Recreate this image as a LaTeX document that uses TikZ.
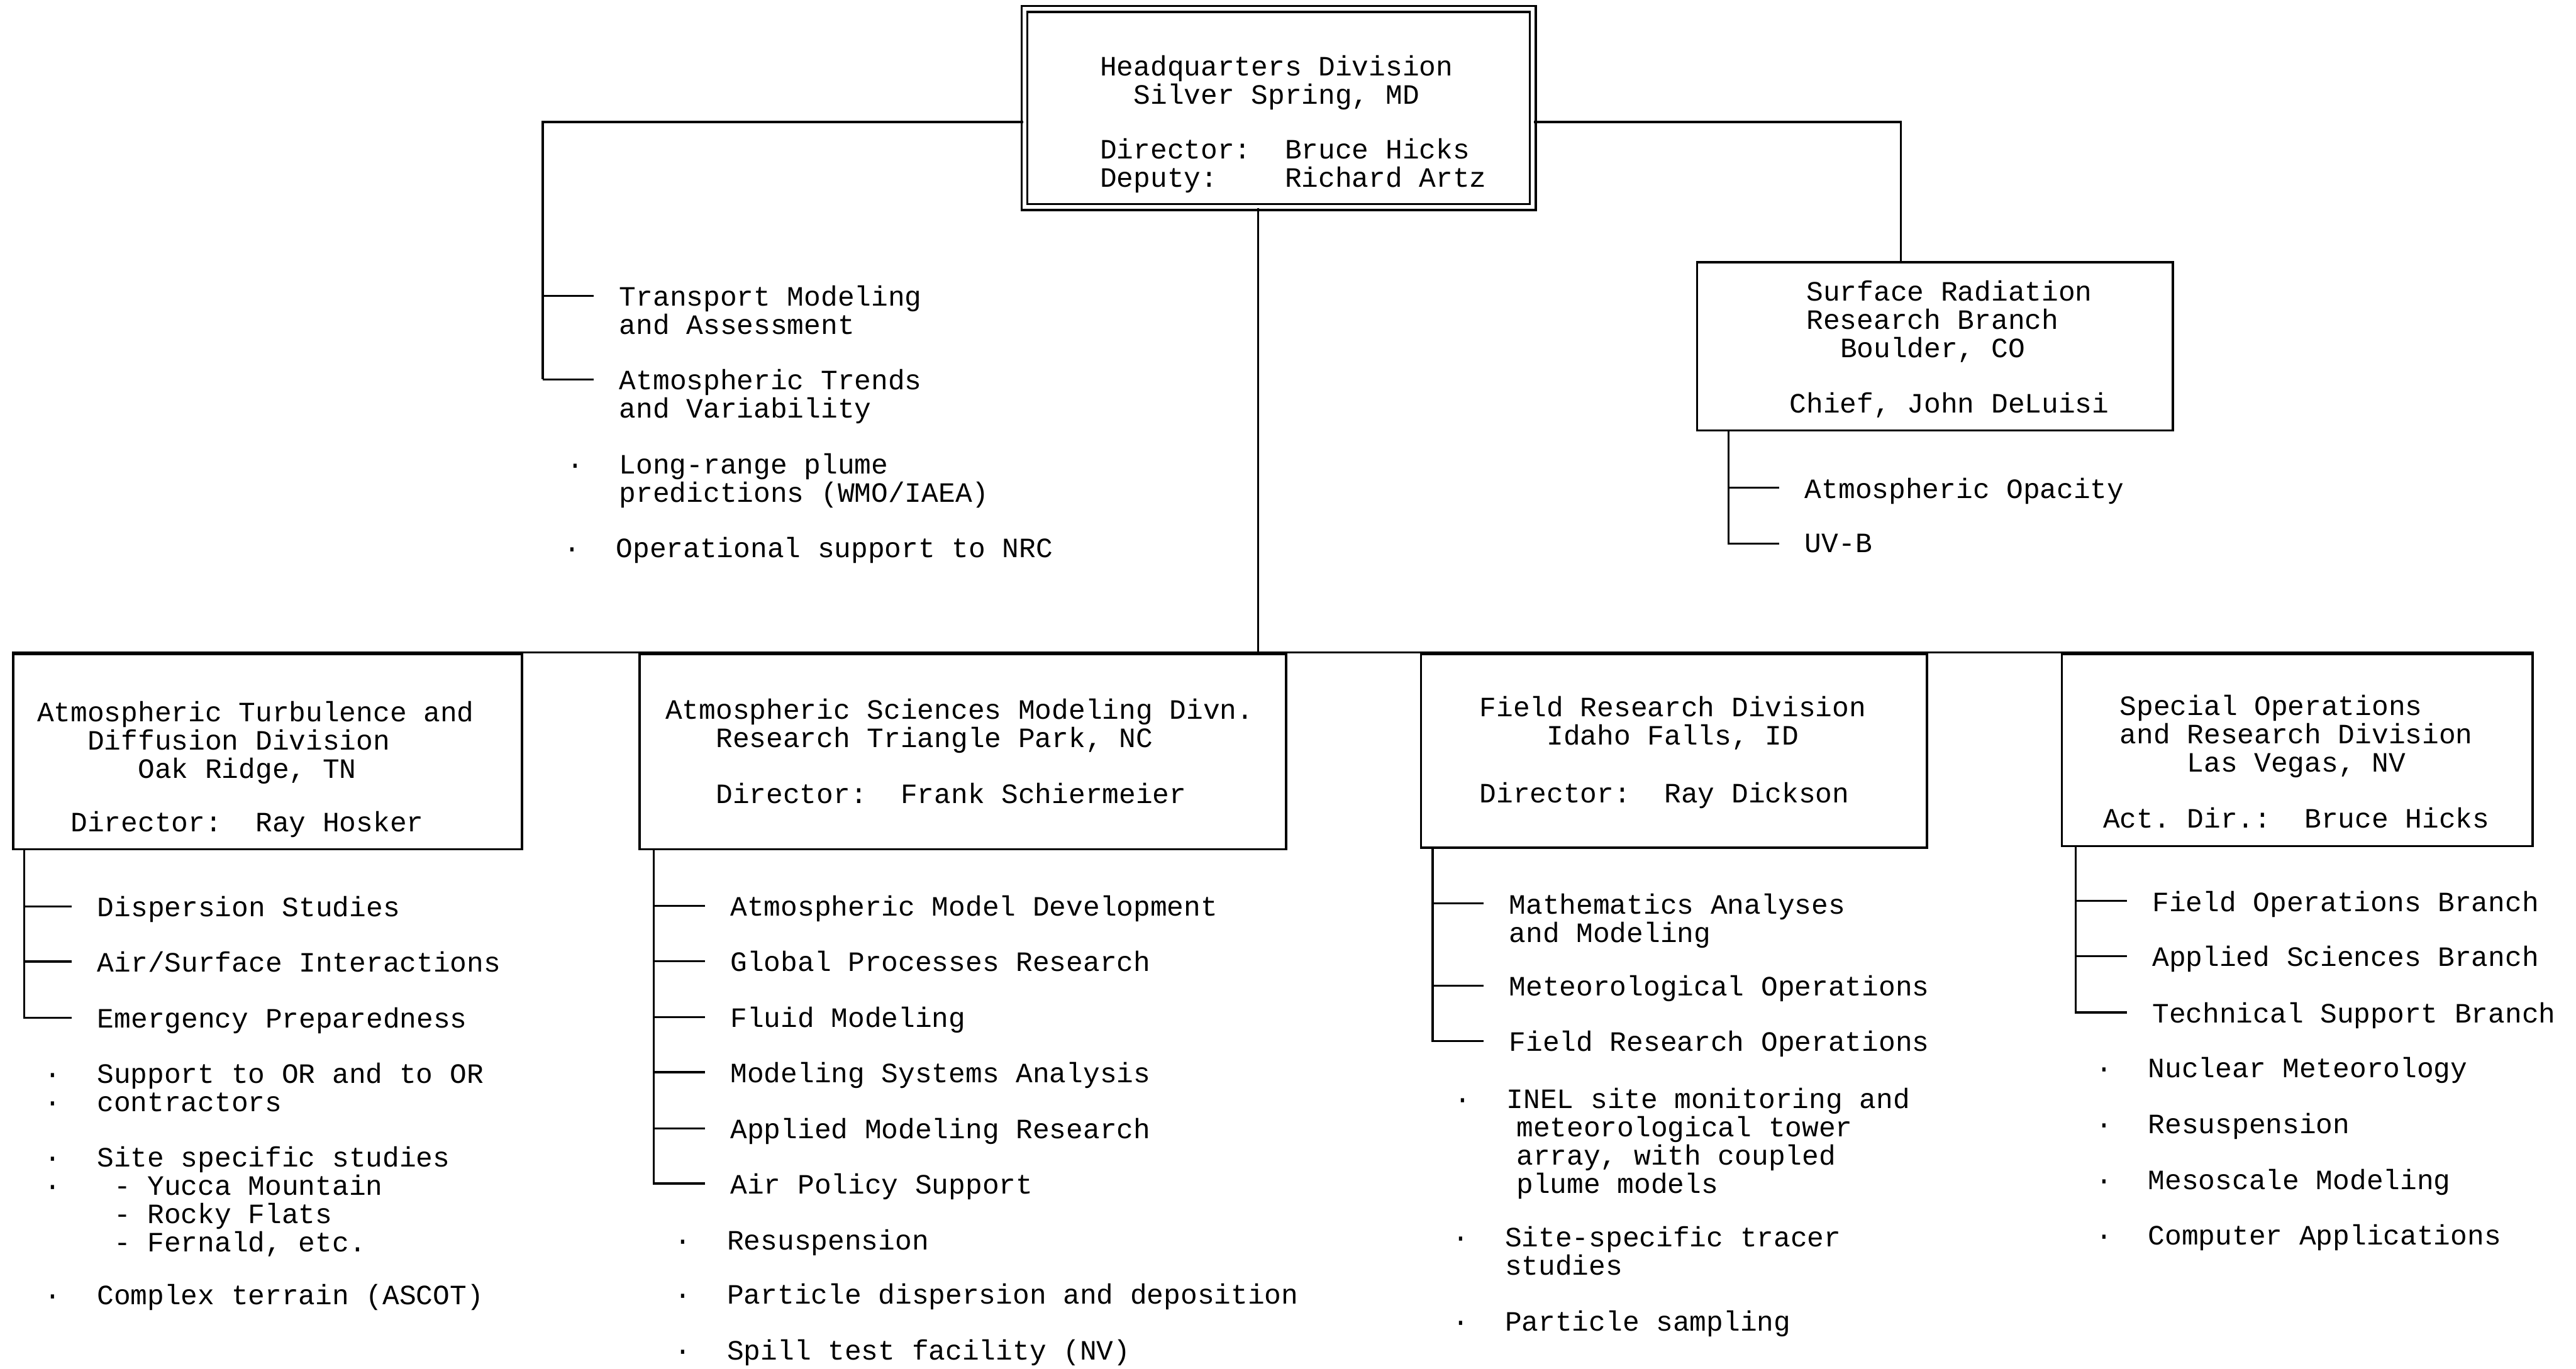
\documentclass[tikz,border=0pt]{standalone}
\usepackage{fontspec}
\setmonofont{Liberation Mono}
\usetikzlibrary{fit}
\frenchspacing

\newcommand{\bul}{\makebox[0.64cm][l]{·}}
\newcommand{\bulgap}{\hspace*{0.64cm}}

\tikzset{
  unit/.style={draw, line width=0.8pt, inner sep=0pt},
  item/.style={anchor=north west, inner sep=0pt, align=left, yshift=3.8pt},
}

\begin{document}
\begin{tikzpicture}[x=0.02cm,y=-0.02cm,line width=0.7pt,
    font=\ttfamily\fontsize{9.7pt}{9.8pt}\selectfont]

    \useasboundingbox (0,0) rectangle (1568,833);

    % boxes
    \node[unit, double, double distance=1.3pt, line width=0.75pt, fit={(623.6,5.5) (933,126)}] (hq) {};
    \node[unit, fit={(1033,159.7) (1322.5,262)}] (srrb) {};
    \node[unit, fit={(8,398) (317.7,517)}] (atdd) {};
    \node[unit, fit={(389.3,398) (782.9,517)}] (asmd) {};
    \node[unit, fit={(865,398) (1173,516)}] (frd) {};
    \node[unit, fit={(1255,398) (1541.6,515)}] (sord) {};

    % box texts
    \node[item] (hq-t) at (669,40) {Headquarters Division\\~~Silver Spring, MD\\[9pt]Director:~~Bruce Hicks\\Deputy:~~~~Richard Artz};
    \node[item] (srrb-t) at (1088.8,176.8) {~Surface Radiation\\~Research Branch\\~~~Boulder, CO\\[9.5pt]Chief, John DeLuisi};
    \node[item] (atdd-t) at (22,433) {Atmospheric Turbulence and\\~~~Diffusion Division\\~~~~~~Oak Ridge, TN\\[8.7pt]~~Director:~~Ray Hosker};
    \node[item] (asmd-t) at (404.5,431.5) {Atmospheric Sciences Modeling Divn.\\~~~Research Triangle Park, NC\\[9.6pt]~~~Director:~~Frank Schiermeier};
    \node[item] (frd-t) at (900,430) {Field Research Division\\~~~~Idaho Falls, ID\\[10.2pt]Director:~~Ray Dickson};
    \node[item] (sord-t) at (1279.5,429.2) {~Special Operations\\~and Research Division\\~~~~~Las Vegas, NV\\[9.5pt]Act. Dir.:~~Bruce Hicks};

    % headquarters staff
    \node[item] (tm) at (376.4,180) {Transport Modeling\\and Assessment};
    \node[item] (atv) at (376.4,231) {Atmospheric Trends\\and Variability};
    \node[item] (lrp) at (344.4,282) {\bul Long-range plume\\\bulgap predictions (WMO/IAEA)};
    \node[item] (nrc) at (342.4,333) {\bul Operational support to NRC};

    % surface radiation
    \node[item] (ao) at (1098,297) {Atmospheric Opacity};
    \node[item] (uvb) at (1098,331) {UV-B};

    % turbulence and diffusion
    \node[item] (ds) at (58.7,551.8) {Dispersion Studies};
    \node[item] (asi) at (58.7,585.3) {Air/Surface Interactions};
    \node[item] (ep) at (58.7,619.5) {Emergency Preparedness};
    \node[item] (sor) at (26.5,653) {\bul Support to OR and to OR\\\bul contractors};
    \node[item] (sss) at (26.5,704) {\bul Site specific studies\\\bul~- Yucca Mountain\\\bulgap~- Rocky Flats\\\bulgap~- Fernald, etc.};
    \node[item] (ct) at (26.5,788) {\bul Complex terrain (ASCOT)};

    % sciences modeling
    \node[item] (amd) at (444,551.4) {Atmospheric Model Development};
    \node[item] (gpr) at (444,585) {Global Processes Research};
    \node[item] (fm) at (444,619.2) {Fluid Modeling};
    \node[item] (msa) at (444,652.7) {Modeling Systems Analysis};
    \node[item] (amr) at (444,686.9) {Applied Modeling Research};
    \node[item] (aps) at (444,720.4) {Air Policy Support};
    \node[item] (rs1) at (410,754.6) {\bul Resuspension};
    \node[item] (pdd) at (410,787.3) {\bul Particle dispersion and deposition};
    \node[item] (stf) at (410,821.5) {\bul Spill test facility (NV)};

    % field research
    \node[item] (maa) at (918,550) {Mathematics Analyses\\and Modeling};
    \node[item] (mo) at (918,600) {Meteorological Operations};
    \node[item] (fro) at (918,633.6) {Field Research Operations};
    \node[item] (inel) at (884.5,668.4) {\bul INEL site monitoring and\\\bulgap\hspace*{0.12cm}meteorological tower\\\bulgap\hspace*{0.12cm}array, with coupled\\\bulgap\hspace*{0.12cm}plume models};
    \node[item] (sst) at (883.5,752.5) {\bul Site-specific tracer\\\bulgap studies};
    \node[item] (ps) at (883.5,804) {\bul Particle sampling};

    % special operations
    \node[item] (fob) at (1309.5,548.5) {Field Operations Branch};
    \node[item] (asb) at (1309.5,582) {Applied Sciences Branch};
    \node[item] (tsb) at (1309.5,616.3) {Technical Support Branch};
    \node[item] (nm) at (1275,649.6) {\bul Nuclear Meteorology};
    \node[item] (rs2) at (1275,683.8) {\bul Resuspension};
    \node[item] (mm) at (1275,717.8) {\bul Mesoscale Modeling};
    \node[item] (ca) at (1275,751.5) {\bul Computer Applications};

    % brackets
    \draw ([xshift=-0.3cm,yshift=-3.8pt]tm.north west) -- ++(-31,0);
    \draw ([xshift=-0.3cm,yshift=-3.8pt]atv.north west) -- ++(-31,0) coordinate (s1);
    \draw ([yshift=-0.17cm]hq.west) -| (s1);

    \draw ([xshift=-0.3cm,yshift=-3.8pt]ao.north west) -- ++(-31,0);
    \draw ([xshift=-0.3cm,yshift=-3.8pt]uvb.north west) -- ++(-31,0) coordinate (s2) -- (s2 |- srrb.south);
    \draw ([yshift=-0.17cm]hq.east) -| ([xshift=-0.415cm]srrb.north);

    \foreach \n in {ds,asi}
        \draw ([xshift=-0.3cm,yshift=-3.8pt]\n.north west) -- ++(-29,0);
    \draw ([xshift=-0.3cm,yshift=-3.8pt]ep.north west) -- ++(-29,0) coordinate (s3) -- (s3 |- atdd.south);

    \foreach \n in {amd,gpr,fm,msa,amr}
        \draw ([xshift=-0.3cm,yshift=-3.8pt]\n.north west) -- ++(-31,0);
    \draw ([xshift=-0.3cm,yshift=-3.8pt]aps.north west) -- ++(-31,0) coordinate (s4) -- (s4 |- asmd.south);

    \foreach \n in {maa,mo}
        \draw ([xshift=-0.3cm,yshift=-3.8pt]\n.north west) -- ++(-31,0);
    \draw ([xshift=-0.3cm,yshift=-3.8pt]fro.north west) -- ++(-31,0) coordinate (s5) -- (s5 |- frd.south);

    \foreach \n in {fob,asb}
        \draw ([xshift=-0.3cm,yshift=-3.8pt]\n.north west) -- ++(-31,0);
    \draw ([xshift=-0.3cm,yshift=-3.8pt]tsb.north west) -- ++(-31,0) coordinate (s6) -- (s6 |- sord.south);

    % trunk and bus
    \draw ([xshift=-0.25cm]hq.south) coordinate (tr) -- (tr |- asmd.north);
    \draw (atdd.north west) -- (sord.north east);

\end{tikzpicture}
\end{document}
